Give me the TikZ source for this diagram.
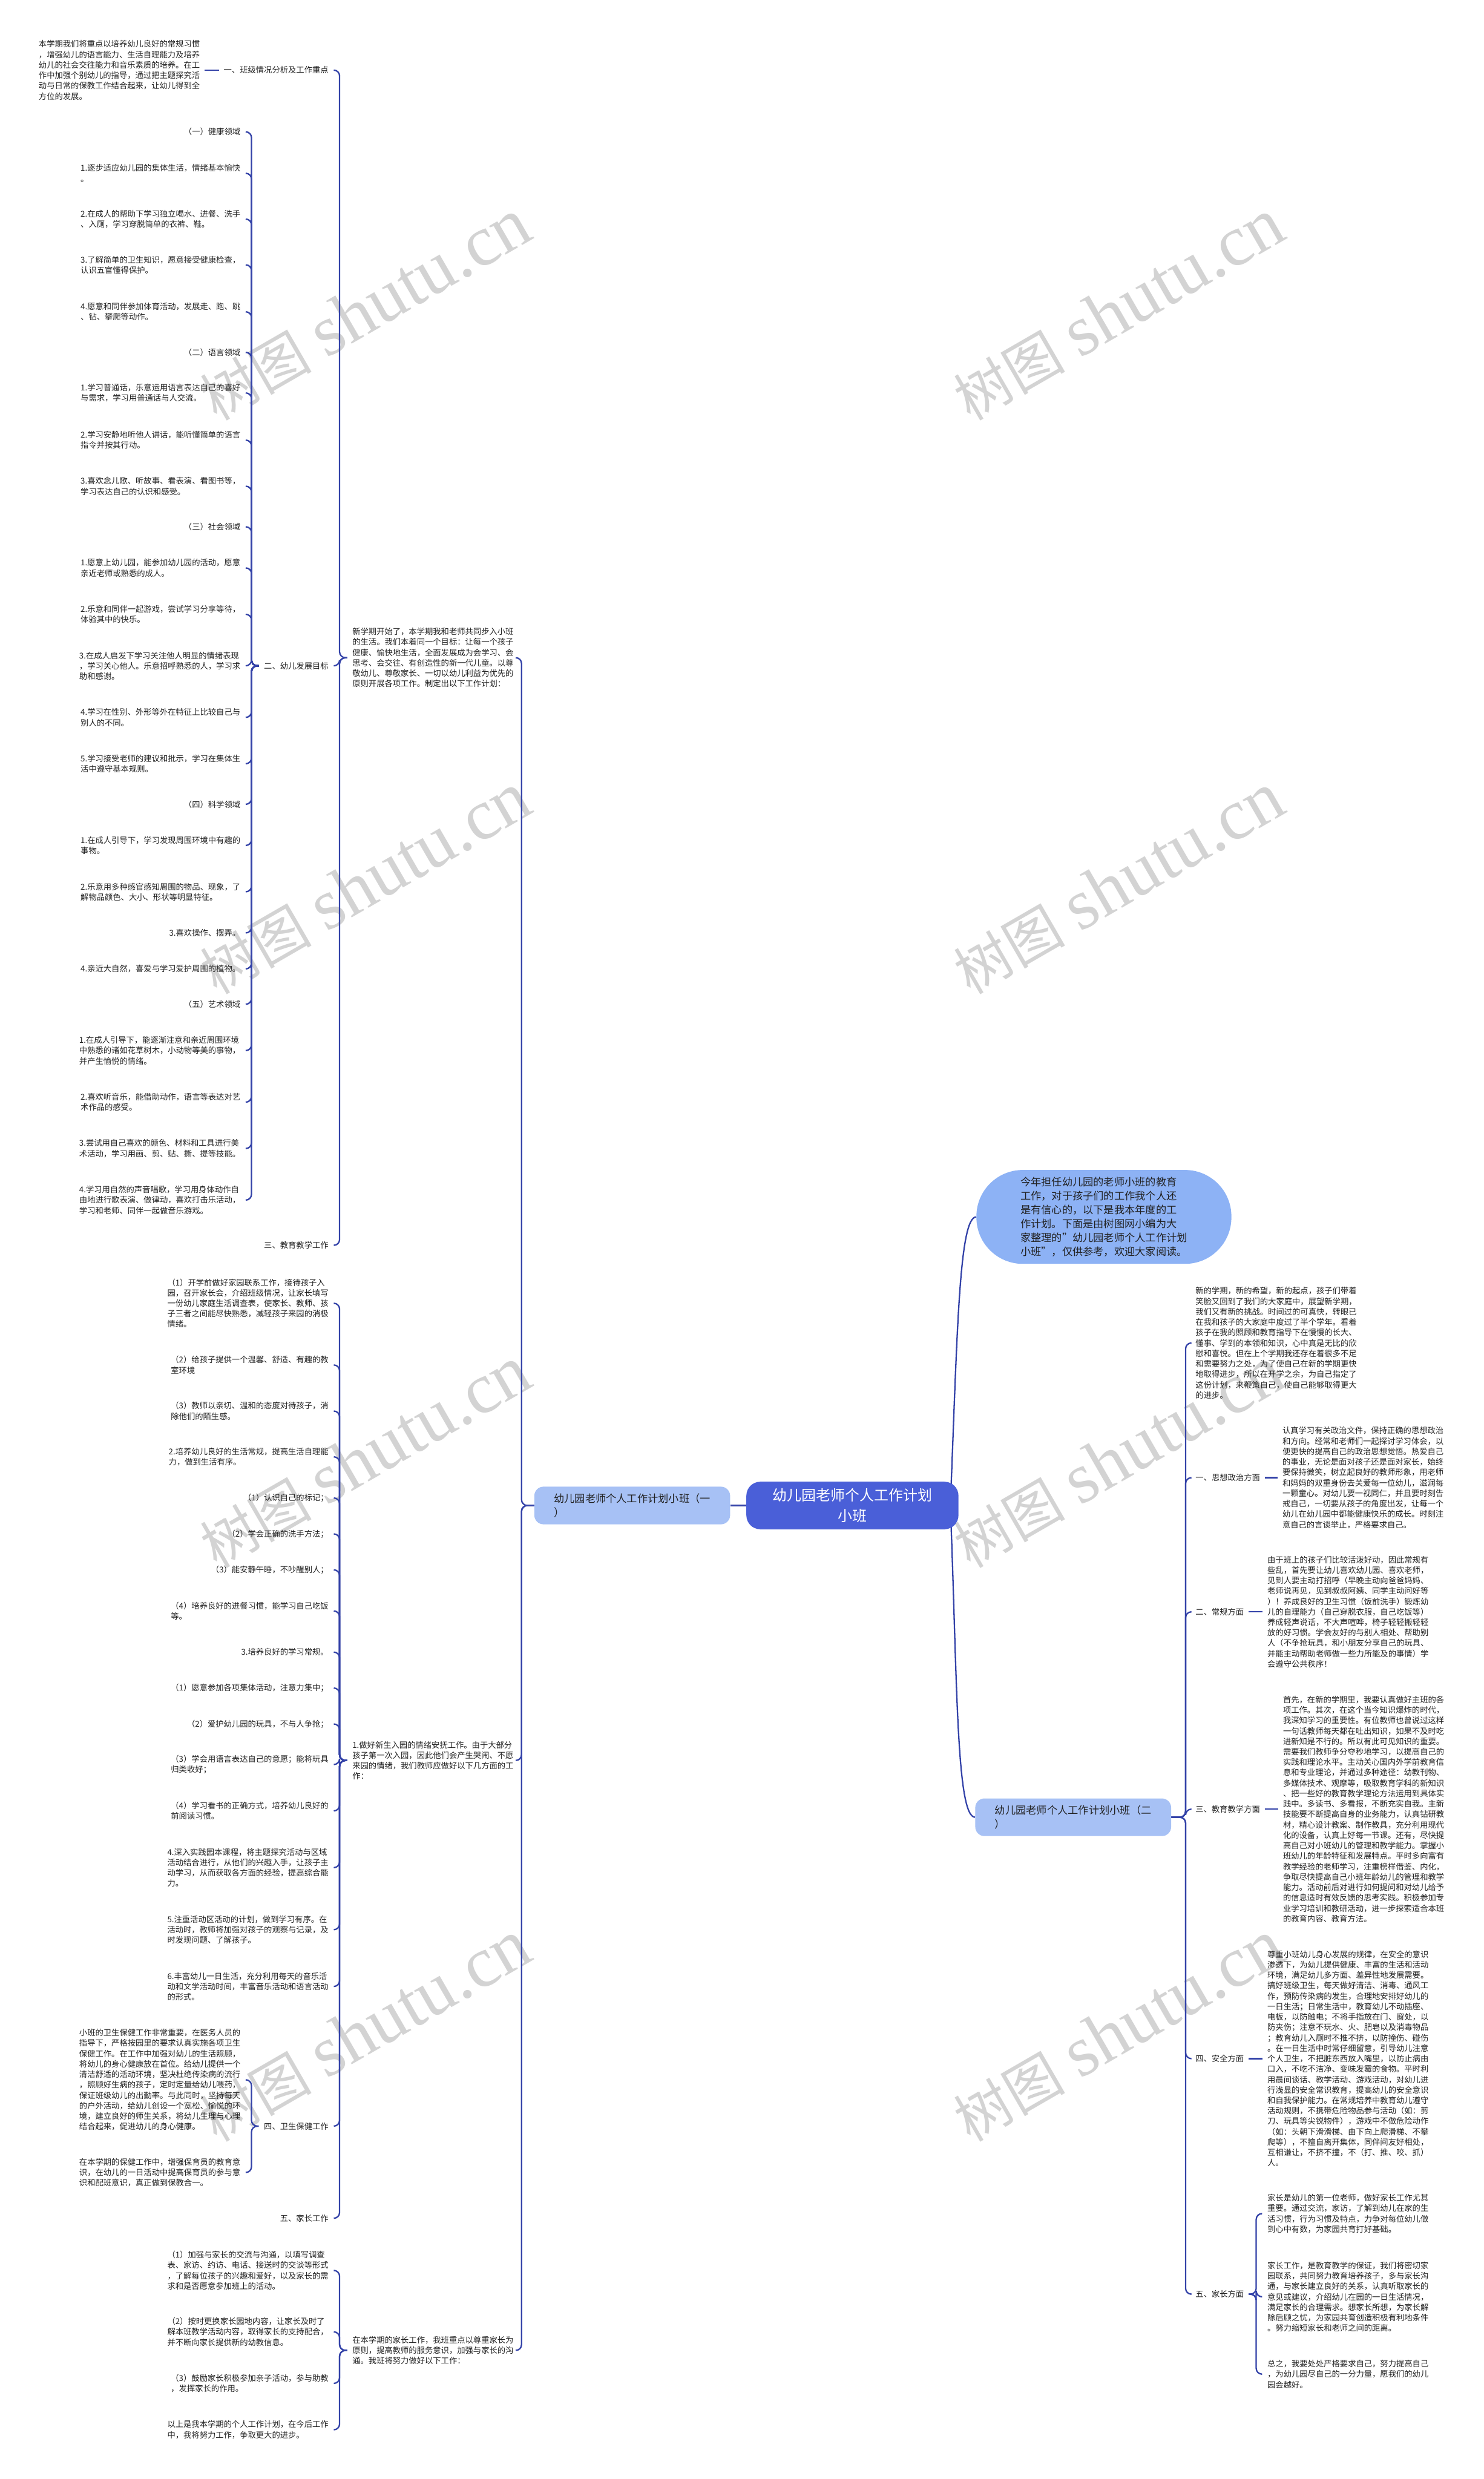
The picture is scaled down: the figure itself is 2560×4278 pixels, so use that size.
\documentclass[tikz,border=0pt]{standalone}
\usepackage{fontspec}
\setmainfont{Noto Sans CJK SC}
\newfontfamily\wmserif{Liberation Serif}
\usetikzlibrary{backgrounds}
\definecolor{linec}{HTML}{3342A8}
\definecolor{txtc}{HTML}{222222}
\definecolor{rootc}{HTML}{4A5FD8}
\definecolor{brc}{HTML}{A7C1F5}
\definecolor{bubc}{HTML}{8DB2F5}
\definecolor{wmc}{HTML}{D3D3D3}
\tikzset{
  lf/.style={inner sep=0pt, align=left, font=\fontsize{13.9}{18}\selectfont, text=txtc},
  conn/.style={draw=linec, line width=2.4pt, rounded corners=10pt},
  brnode/.style={fill=brc, rounded corners=16pt, inner xsep=25pt, inner ysep=8pt, align=left, minimum width=338pt, minimum height=65pt, font=\fontsize{18}{24}\selectfont, text=txtc},
  wm/.style={text=wmc, rotate=30, inner sep=0pt},
}
\newcommand\lc[2]{\draw[conn] ([xshift=9pt]#1.east) -- ([xshift=19pt]#1.east) |- ([xshift=-9pt]#2.west);}
\begin{document}
\begin{tikzpicture}[x=1pt,y=-1pt]
\useasboundingbox (0,0) rectangle (2560,4278);

% ---------------- centre ----------------
\node[fill=rootc, rounded corners=24pt, minimum width=366pt, minimum height=82pt, align=center, text=white, font=\fontsize{25}{35}\selectfont] (root) at (1471,2598) {幼儿园老师个人工作计划\\小班};
\node[fill=bubc, rounded corners=80pt, minimum width=440pt, minimum height=162pt, align=left, text=txtc, font=\fontsize{18}{24}\selectfont] (bubble) at (1905,2100) {今年担任幼儿园的老师小班的教育\\工作，对于孩子们的工作我个人还\\是有信心的，以下是我本年度的工\\作计划。下面是由树图网小编为大\\家整理的"幼儿园老师个人工作计划\\小班"，仅供参考，欢迎大家阅读。};
\node[brnode] (br1) at (1091,2598) {幼儿园老师个人工作计划小班（一\\）};
\node[brnode] (br2) at (1852,3136) {幼儿园老师个人工作计划小班（二\\）};

% ---------------- branch 1 : paragraphs ----------------
\node[lf, anchor=west] (p1) at (608,1135) {新学期开始了，本学期我和老师共同步入小班\\的生活。我们本着同一个目标：让每一个孩子\\健康、愉快地生活，全面发展成为会学习、会\\思考、会交往、有创造性的新一代儿童。以尊\\敬幼儿、尊敬家长、一切以幼儿利益为优先的\\原则开展各项工作。制定出以下工作计划：};
\node[lf, anchor=west] (p2) at (608,3038) {1.做好新生入园的情绪安抚工作。由于大部分\\孩子第一次入园，因此他们会产生哭闹、不愿\\来园的情绪，我们教师应做好以下几方面的工\\作：};
\node[lf, anchor=west] (p3) at (608,4056) {在本学期的家长工作，我班重点以尊重家长为\\原则，提高教师的服务意识，加强与家长的沟\\通。我班将努力做好以下工作：};

% labels of p1
\node[lf, anchor=east] (l1) at (567,121) {一、班级情况分析及工作重点};
\node[lf, anchor=east] (l2) at (567,1149) {二、幼儿发展目标};
\node[lf, anchor=east] (l3) at (567,2149) {三、教育教学工作};

\node[lf, anchor=east] (t0) at (345,121) {本学期我们将重点以培养幼儿良好的常规习惯\\，增强幼儿的语言能力、生活自理能力及培养\\幼儿的社会交往能力和音乐素质的培养。在工\\作中加强个别幼儿的指导，通过把主题探究活\\动与日常的保教工作结合起来，让幼儿得到全\\方位的发展。};

% group A (二、幼儿发展目标)
\node[lf, anchor=east] (a1) at (415,227.5) {（一）健康领域};
\node[lf, anchor=east] (a2) at (415,299) {1.逐步适应幼儿园的集体生活，情绪基本愉快\\。};
\node[lf, anchor=east] (a3) at (415,378) {2.在成人的帮助下学习独立喝水、进餐、洗手\\、入厕，学习穿脱简单的衣裤、鞋。};
\node[lf, anchor=east] (a4) at (415,457) {3.了解简单的卫生知识，愿意接受健康检查，\\认识五官懂得保护。};
\node[lf, anchor=east] (a5) at (415,538) {4.愿意和同伴参加体育活动，发展走、跑、跳\\、钻、攀爬等动作。};
\node[lf, anchor=east] (a6) at (415,608) {（二）语言领域};
\node[lf, anchor=east] (a7) at (415,678) {1.学习普通话，乐意运用语言表达自己的喜好\\与需求，学习用普通话与人交流。};
\node[lf, anchor=east] (a8) at (415,759.5) {2.学习安静地听他人讲话，能听懂简单的语言\\指令并按其行动。};
\node[lf, anchor=east] (a9) at (415,839) {3.喜欢念儿歌、听故事、看表演、看图书等，\\学习表达自己的认识和感受。};
\node[lf, anchor=east] (a10) at (415,909) {（三）社会领域};
\node[lf, anchor=east] (a11) at (415,980) {1.愿意上幼儿园，能参加幼儿园的活动，愿意\\亲近老师或熟悉的成人。};
\node[lf, anchor=east] (a12) at (415,1060) {2.乐意和同伴一起游戏，尝试学习分享等待，\\体验其中的快乐。};
\node[lf, anchor=east] (a13) at (415,1149) {3.在成人启发下学习关注他人明显的情绪表现\\，学习关心他人。乐意招呼熟悉的人，学习求\\助和感谢。};
\node[lf, anchor=east] (a14) at (415,1238) {4.学习在性别、外形等外在特征上比较自己与\\别人的不同。};
\node[lf, anchor=east] (a15) at (415,1318) {5.学习接受老师的建议和批示，学习在集体生\\活中遵守基本规则。};
\node[lf, anchor=east] (a16) at (415,1388) {（四）科学领域};
\node[lf, anchor=east] (a17) at (415,1459) {1.在成人引导下，学习发现周围环境中有趣的\\事物。};
\node[lf, anchor=east] (a18) at (415,1539) {2.乐意用多种感官感知周围的物品、现象，了\\解物品颜色、大小、形状等明显特征。};
\node[lf, anchor=east] (a19) at (415,1610) {3.喜欢操作、摆弄。};
\node[lf, anchor=east] (a20) at (415,1672) {4.亲近大自然，喜爱与学习爱护周围的植物。};
\node[lf, anchor=east] (a21) at (415,1733) {（五）艺术领域};
\node[lf, anchor=east] (a22) at (415,1813) {1.在成人引导下，能逐渐注意和亲近周围环境\\中熟悉的诸如花草树木，小动物等美的事物，\\并产生愉悦的情绪。};
\node[lf, anchor=east] (a23) at (415,1902) {2.喜欢听音乐，能借助动作，语言等表达对艺\\术作品的感受。};
\node[lf, anchor=east] (a24) at (415,1982) {3.尝试用自己喜欢的颜色、材料和工具进行美\\术活动，学习用画、剪、贴、撕、提等技能。};
\node[lf, anchor=east] (a25) at (415,2071) {4.学习用自然的声音唱歌，学习用身体动作自\\由地进行歌表演、做律动，喜欢打击乐活动，\\学习和老师、同伴一起做音乐游戏。};

% group B (children of p2)
\node[lf, anchor=east] (b1) at (567,2249) {（1）开学前做好家园联系工作，接待孩子入\\园，召开家长会，介绍班级情况，让家长填写\\一份幼儿家庭生活调查表，使家长、教师、孩\\子三者之间能尽快熟悉，减轻孩子来园的消极\\情绪。};
\node[lf, anchor=east] (b2) at (567,2355.5) {（2）给孩子提供一个温馨、舒适、有趣的教\\室环境};
\node[lf, anchor=east] (b3) at (567,2435) {（3）教师以亲切、温和的态度对待孩子，消\\除他们的陌生感。};
\node[lf, anchor=east] (b4) at (567,2514) {2.培养幼儿良好的生活常规，提高生活自理能\\力，做到生活有序。};
\node[lf, anchor=east] (b5) at (567,2585) {（1）认识自己的标记；};
\node[lf, anchor=east] (b6) at (567,2647) {（2）学会正确的洗手方法；};
\node[lf, anchor=east] (b7) at (567,2709) {（3）能安静午睡，不吵醒别人；};
\node[lf, anchor=east] (b8) at (567,2780) {（4）培养良好的进餐习惯，能学习自己吃饭\\等。};
\node[lf, anchor=east] (b9) at (567,2851) {3.培养良好的学习常规。};
\node[lf, anchor=east] (b10) at (567,2913) {（1）愿意参加各项集体活动，注意力集中；};
\node[lf, anchor=east] (b11) at (567,2975) {（2）爱护幼儿园的玩具，不与人争抢；};
\node[lf, anchor=east] (b12) at (567,3045) {（3）学会用语言表达自己的意愿；能将玩具\\归类收好；};
\node[lf, anchor=east] (b13) at (567,3125) {（4）学习看书的正确方式，培养幼儿良好的\\前阅读习惯。};
\node[lf, anchor=east] (b14) at (567,3223) {4.深入实践园本课程，将主题探究活动与区域\\活动结合进行，从他们的兴趣入手，让孩子主\\动学习，从而获取各方面的经验，提高综合能\\力。};
\node[lf, anchor=east] (b15) at (567,3330) {5.注重活动区活动的计划，做到学习有序。在\\活动时，教师将加强对孩子的观察与记录，及\\时发现问题、了解孩子。};
\node[lf, anchor=east] (b16) at (567,3428) {6.丰富幼儿一日生活，充分利用每天的音乐活\\动和文学活动时间，丰富音乐活动和语言活动\\的形式。};
\node[lf, anchor=east] (b17) at (567,3669) {四、卫生保健工作};
\node[lf, anchor=east] (b18) at (567,3828) {五、家长工作};

\node[lf, anchor=east] (c1) at (415,3589) {小班的卫生保健工作非常重要，在医务人员的\\指导下，严格按园里的要求认真实施各项卫生\\保健工作。在工作中加强对幼儿的生活照顾，\\将幼儿的身心健康放在首位。给幼儿提供一个\\清洁舒适的活动环境，坚决杜绝传染病的流行\\，照顾好生病的孩子，定时定量给幼儿喂药，\\保证班级幼儿的出勤率。与此同时，坚持每天\\的户外活动，给幼儿创设一个宽松、愉悦的环\\境，建立良好的师生关系，将幼儿生理与心理\\结合起来，促进幼儿的身心健康。};
\node[lf, anchor=east] (c2) at (415,3749) {在本学期的保健工作中，增强保育员的教育意\\识，在幼儿的一日活动中提高保育员的参与意\\识和配班意识，真正做到保教合一。};

% group D (children of p3)
\node[lf, anchor=east] (d1) at (567,3918) {（1）加强与家长的交流与沟通，以填写调查\\表、家访、约访、电话、接送时的交谈等形式\\，了解每位孩子的兴趣和爱好，以及家长的需\\求和是否愿意参加班上的活动。};
\node[lf, anchor=east] (d2) at (567,4024) {（2）按时更换家长园地内容，让家长及时了\\解本班教学活动内容，取得家长的支持配合，\\并不断向家长提供新的幼教信息。};
\node[lf, anchor=east] (d3) at (567,4113) {（3）鼓励家长积极参加亲子活动，参与助教\\，发挥家长的作用。};
\node[lf, anchor=east] (d4) at (567,4193) {以上是我本学期的个人工作计划，在今后工作\\中，我将努力工作，争取更大的进步。};

% ---------------- branch 2 ----------------
\node[lf, anchor=west] (e0) at (2063,2317.5) {新的学期，新的希望，新的起点，孩子们带着\\笑脸又回到了我们的大家庭中，展望新学期，\\我们又有新的挑战。时间过的可真快，转眼已\\在我和孩子的大家庭中度过了半个学年。看着\\孩子在我的照顾和教育指导下在慢慢的长大、\\懂事、学到的本领和知识，心中真是无比的欣\\慰和喜悦。但在上个学期我还存在着很多不足\\和需要努力之处，为了使自己在新的学期更快\\地取得进步，所以在开学之余，为自己指定了\\这份计划，来鞭策自己，使自己能够取得更大\\的进步。};
\node[lf, anchor=west] (e1) at (2063,2550) {一、思想政治方面};
\node[lf, anchor=west] (e1t) at (2213,2550) {认真学习有关政治文件，保持正确的思想政治\\和方向。经常和老师们一起探讨学习体会，以\\便更快的提高自己的政治思想觉悟。热爱自己\\的事业，无论是面对孩子还是面对家长，始终\\要保持微笑，树立起良好的教师形象，用老师\\和妈妈的双重身份去关爱每一位幼儿，滋润每\\一颗童心。对幼儿要一视同仁，并且要时刻告\\戒自己，一切要从孩子的角度出发，让每一个\\幼儿在幼儿园中都能健康快乐的成长。时刻注\\意自己的言谈举止，严格要求自己。};
\node[lf, anchor=west] (e2) at (2063,2781.5) {二、常规方面};
\node[lf, anchor=west] (e2t) at (2187,2781.5) {由于班上的孩子们比较活泼好动，因此常规有\\些乱，首先要让幼儿喜欢幼儿园、喜欢老师，\\见到人要主动打招呼（早晚主动向爸爸妈妈、\\老师说再见，见到叔叔阿姨、同学主动问好等\\）！养成良好的卫生习惯（饭前洗手）锻炼幼\\儿的自理能力（自己穿脱衣服，自己吃饭等）\\养成轻声说话，不大声喧哗，椅子轻轻搬轻轻\\放的好习惯。学会友好的与别人相处、帮助别\\人（不争抢玩具，和小朋友分享自己的玩具、\\并能主动帮助老师做一些力所能及的事情）学\\会遵守公共秩序！};
\node[lf, anchor=west] (e3) at (2063,3122) {三、教育教学方面};
\node[lf, anchor=west] (e3t) at (2214,3122) {首先，在新的学期里，我要认真做好主班的各\\项工作。其次，在这个当今知识爆炸的时代，\\我深知学习的重要性。有位教师也曾说过这样\\一句话教师每天都在吐出知识，如果不及时吃\\进新知是不行的。所以有此可见知识的重要。\\需要我们教师争分夺秒地学习，以提高自己的\\实践和理论水平。主动关心国内外学前教育信\\息和专业理论，并通过多种途径：幼教刊物、\\多媒体技术、观摩等，吸取教育学科的新知识\\、把一些好的教育教学理论方法运用到具体实\\践中。多读书、多看报，不断充实自我。主新\\技能要不断提高自身的业务能力，认真钻研教\\材，精心设计教案、制作教具，充分利用现代\\化的设备，认真上好每一节课。还有，尽快提\\高自己对小班幼儿的管理和教学能力。掌握小\\班幼儿的年龄特征和发展特点。平时多向富有\\教学经验的老师学习，注重榜样借鉴、内化，\\争取尽快提高自己小班年龄幼儿的管理和教学\\能力。活动前后对进行如何提问和对幼儿给予\\的信息适时有效反馈的思考实践。积极参加专\\业学习培训和教研活动，进一步探索适合本班\\的教育内容、教育方法。};
\node[lf, anchor=west] (e4) at (2063,3552.5) {四、安全方面};
\node[lf, anchor=west] (e4t) at (2187,3552.5) {尊重小班幼儿身心发展的规律，在安全的意识\\渗透下，为幼儿提供健康、丰富的生活和活动\\环境，满足幼儿多方面、差异性地发展需要。\\搞好班级卫生，每天做好清洁、消毒、通风工\\作，预防传染病的发生，合理地安排好幼儿的\\一日生活；日常生活中，教育幼儿不动插座、\\电板，以防触电；不将手指放在门、窗处，以\\防夹伤；注意不玩水、火、肥皂以及消毒物品\\；教育幼儿入厕时不推不挤，以防撞伤、碰伤\\。在一日生活中时常仔细留意，引导幼儿注意\\个人卫生，不把脏东西放入嘴里，以防止病由\\口入，不吃不洁净、变味发霉的食物。平时利\\用晨间谈话、教学活动、游戏活动，对幼儿进\\行浅显的安全常识教育，提高幼儿的安全意识\\和自我保护能力。在常规培养中教育幼儿遵守\\活动规则，不携带危险物品参与活动（如：剪\\刀、玩具等尖锐物件），游戏中不做危险动作\\（如：头朝下滑滑梯、由下向上爬滑梯、不攀\\爬等），不擅自离开集体，同伴间友好相处，\\互相谦让，不挤不撞，不（打、推、咬、抓）\\人。};
\node[lf, anchor=west] (e5) at (2063,3959) {五、家长方面};
\node[lf, anchor=west] (e5a) at (2187,3820) {家长是幼儿的第一位老师，做好家长工作尤其\\重要。通过交流，家访，了解到幼儿在家的生\\活习惯，行为习惯及特点，力争对每位幼儿做\\到心中有数，为家园共育打好基础。};
\node[lf, anchor=west] (e5b) at (2187,3963.5) {家长工作，是教育教学的保证，我们将密切家\\园联系，共同努力教育培养孩子，多与家长沟\\通，与家长建立良好的关系，认真听取家长的\\意见或建议，介绍幼儿在园的一日生活情况，\\满足家长的合理需求。想家长所想，为家长解\\除后顾之忧，为家园共育创造积极有利地条件\\。努力缩短家长和老师之间的距离。};
\node[lf, anchor=west] (e5c) at (2187,4097) {总之，我要处处严格要求自己，努力提高自己\\，为幼儿园尽自己的一分力量，愿我们的幼儿\\园会越好。};

\coordinate (ps) at (890,0);
\coordinate (vb1) at (900,0);
\coordinate (vb2) at (2046,0);
\coordinate (rs) at (1640,2598);

\begin{pgfonlayer}{background}
\fill[white] (0,0) rectangle (2560,4278);
% watermarks
\foreach \wx/\wy in {630/535, 630/1525, 630/2515, 630/3505, 1930/535, 1930/1525, 1930/2515, 1930/3505}{
  \node[wm] at (\wx,\wy) {\fontsize{96}{96}\selectfont 树图\hspace{26pt}\wmserif\fontsize{124}{124}\selectfont shutu.cn};
}
% connectors
\draw[conn] ([xshift=8pt]t0.east) -- ([xshift=-8pt]l1.west);
\foreach \n in {a1,a2,a3,a4,a5,a6,a7,a8,a9,a10,a11,a12,a13,a14,a15,a16,a17,a18,a19,a20,a21,a22,a23,a24,a25}{\lc{\n}{l2}}
\foreach \n in {l1,l2,l3}{\lc{\n}{p1}}
\foreach \n in {b1,b2,b3,b4,b5,b6,b7,b8,b9,b10,b11,b12,b13,b14,b15,b16,b17,b18}{\lc{\n}{p2}}
\foreach \n in {c1,c2}{\lc{\n}{b17}}
\foreach \n in {d1,d2,d3,d4}{\lc{\n}{p3}}
\foreach \n in {p1,p2,p3}{\draw[conn] (\n.east -| ps) -- (\n.east -| vb1) |- (br1.west);}
\draw[conn] (br1.east) -- (root.west);
\draw[conn] (rs) .. controls (1652,2300) and (1655,2100) .. (bubble.west);
\draw[conn] (rs) .. controls (1652,2900) and (1650,3136) .. (br2.west);
\foreach \n in {e0,e1,e2,e3,e4,e5}{\draw[conn] (br2.east) -- (br2.east -| vb2) |- ([xshift=-8pt]\n.west);}
\foreach \n in {e1,e2,e3,e4}{\draw[conn] ([xshift=8pt]\n.east) -- ([xshift=-8pt]\n t.west);}
\foreach \n in {e5a,e5b,e5c}{\draw[conn] ([xshift=8pt]e5.east) -- ([xshift=21pt]e5.east) |- ([xshift=-9pt]\n.west);}
\end{pgfonlayer}
\end{tikzpicture}
\end{document}
